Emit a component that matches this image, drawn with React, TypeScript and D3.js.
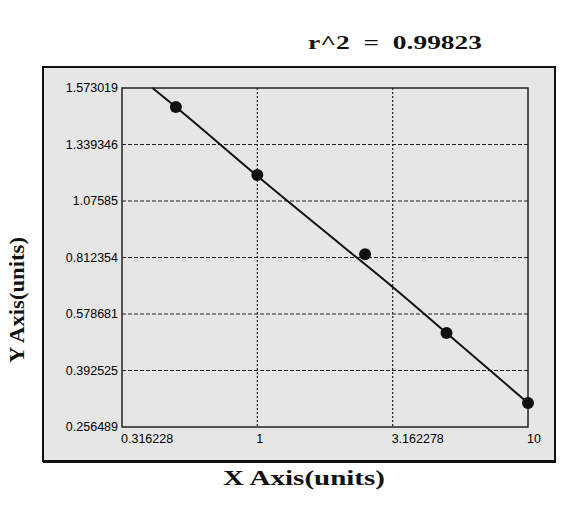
import React from "react";
import * as d3 from "d3";

const xTickValues = [0.316228, 1, 3.162278, 10];
const xTickLabels = ["0.316228", "1", "3.162278", "10"];
const yTickValues = [0.256489, 0.392525, 0.578681, 0.812354, 1.07585, 1.339346, 1.573019];
const yTickLabels = ["0.256489", "0.392525", "0.578681", "0.812354", "1.07585", "1.339346", "1.573019"];

const pointX = [0.5, 1, 2.5, 5, 10];
const pointY = [1.4945, 1.197, 0.827, 0.516, 0.3143];

const fitX = [0.41, 0.5, 1, 2, 3.162278, 5, 10];
const fitY = [1.573, 1.4945, 1.1924, 0.88, 0.6904, 0.516, 0.3143];

const titleText = "r^2  =  0.99823";
const xTitle = "X Axis(units)";
const yTitle = "Y Axis(units)";

const W = 588;
const H = 507;
const plot = { left: 122, right: 528, top: 88, bottom: 427 };
const panel = { left: 43, right: 555, top: 67, bottom: 461 };

export default function App() {
  const x = d3.scaleLog().domain([xTickValues[0], xTickValues[xTickValues.length - 1]]).range([plot.left, plot.right]);
  const n = yTickValues.length;
  const yRange = yTickValues.map((_, i) => plot.bottom - (i * (plot.bottom - plot.top)) / (n - 1));
  const y = d3.scaleLinear().domain(yTickValues).range(yRange);

  const fit = fitX.map((v, i) => [v, fitY[i]] as [number, number]);
  const line = d3
    .line<[number, number]>()
    .x((d) => x(d[0]))
    .y((d) => y(d[1]))
    .curve(d3.curveMonotoneX);

  const sans = "'Liberation Sans', Arial, sans-serif";
  const serif = "'Liberation Serif', 'Times New Roman', serif";

  return (
    <svg
      width={W}
      height={H}
      style={{ position: "absolute", left: 0, top: 0, background: "#ffffff" }}
    >
      <rect x={0} y={0} width={W} height={H} fill="#ffffff" />
      <text
        x={308}
        y={49}
        fontFamily={serif}
        fontSize={19}
        fontWeight="bold"
        textLength={174}
        lengthAdjust="spacingAndGlyphs"
        style={{ whiteSpace: "pre" }}
        fill="#111"
      >
        {titleText}
      </text>

      <rect
        x={panel.left}
        y={panel.top}
        width={panel.right - panel.left}
        height={panel.bottom - panel.top}
        fill="#e6e6e6"
        stroke="#111"
        strokeWidth={2}
      />
      <line x1={panel.left} x2={panel.right + 1} y1={panel.bottom + 1} y2={panel.bottom + 1} stroke="#111" strokeWidth={2} />

      <clipPath id="plotclip">
        <rect x={plot.left} y={plot.top - 3} width={plot.right - plot.left} height={plot.bottom - plot.top + 3} />
      </clipPath>

      {yTickValues.slice(1, -1).map((v) => (
        <line
          key={"gy" + v}
          x1={plot.left}
          x2={plot.right}
          y1={y(v)}
          y2={y(v)}
          stroke="#222"
          strokeWidth={1}
          strokeDasharray="4,2"
        />
      ))}
      {xTickValues.slice(1, -1).map((v) => (
        <line
          key={"gx" + v}
          x1={x(v)}
          x2={x(v)}
          y1={plot.top}
          y2={plot.bottom}
          stroke="#222"
          strokeWidth={1.2}
          strokeDasharray="2,2"
        />
      ))}

      <rect
        x={plot.left}
        y={plot.top}
        width={plot.right - plot.left}
        height={plot.bottom - plot.top}
        fill="none"
        stroke="#222"
        strokeWidth={1.5}
      />

      <path d={line(fit) || ""} fill="none" stroke="#111" strokeWidth={2} clipPath="url(#plotclip)" />

      {pointX.map((v, i) => (
        <circle key={"p" + i} cx={x(v)} cy={y(pointY[i])} r={6} fill="#111" />
      ))}

      {yTickValues.map((v, i) => (
        <text
          key={"yl" + v}
          x={plot.left - 4}
          y={y(v)}
          dy="0.35em"
          textAnchor="end"
          fontFamily={sans}
          fontSize={12.5}
          fill="#000"
        >
          {yTickLabels[i]}
        </text>
      ))}
      {xTickValues.map((v, i) => (
        <text
          key={"xl" + v}
          x={x(v) - 1}
          y={plot.bottom + 16}
          textAnchor="start"
          fontFamily={sans}
          fontSize={12.5}
          fill="#000"
        >
          {xTickLabels[i]}
        </text>
      ))}

      <text
        x={223}
        y={485}
        fontFamily={serif}
        fontSize={20}
        fontWeight="bold"
        textLength={162}
        lengthAdjust="spacingAndGlyphs"
        fill="#111"
      >
        {xTitle}
      </text>
      <text
        transform={`translate(24, 300) rotate(-90)`}
        textAnchor="middle"
        fontFamily={serif}
        fontSize={20}
        fontWeight="bold"
        textLength={126}
        lengthAdjust="spacingAndGlyphs"
        fill="#111"
      >
        {yTitle}
      </text>
    </svg>
  );
}
